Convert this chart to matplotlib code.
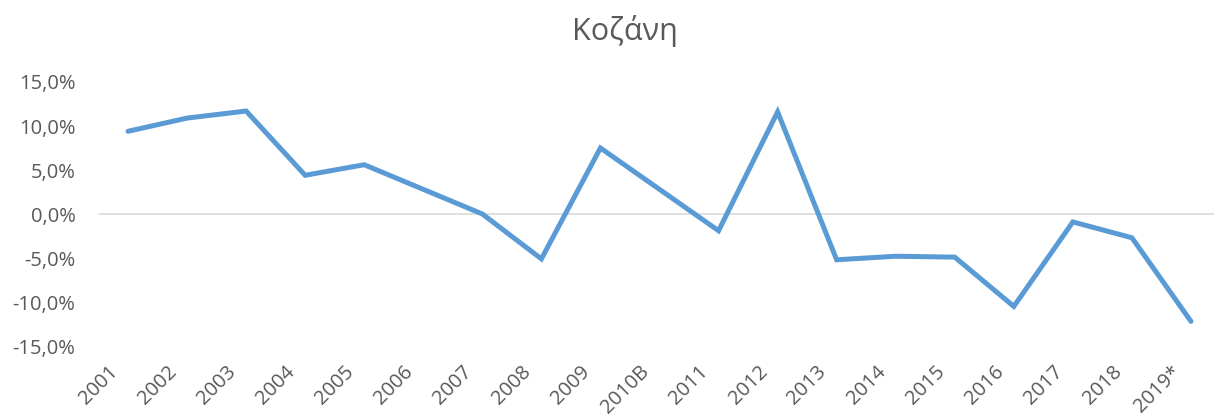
import matplotlib
matplotlib.use("Agg")
import matplotlib.pyplot as plt
import matplotlib.transforms as mtransforms
from matplotlib.ticker import FuncFormatter

years = ["2001", "2002", "2003", "2004", "2005", "2006", "2007", "2008", "2009", "2010B",
         "2011", "2012", "2013", "2014", "2015", "2016", "2017", "2018", "2019*"]
change_pct = [9.4, 10.9, 11.7, 4.4, 5.6, 2.8, 0.0, -5.1, 7.5, 2.8,
              -1.9, 11.6, -5.2, -4.8, -4.9, -10.5, -0.9, -2.7, -12.2]

plt.rcParams["font.family"] = ["Open Sans", "DejaVu Sans"]
text_color = "#595959"

fig = plt.figure(figsize=(12.14, 4.19), dpi=100)
ax = fig.add_axes([98.5 / 1214, 0.1742, 1 - 98.5 / 1214, 0.6301])

x = list(range(len(years)))
ax.plot(x, change_pct, color="#5B9BD5", lw=3.6, solid_joinstyle="miter", solid_capstyle="round")
ax.axhline(0, color="#D9D9D9", lw=1.2, zorder=0)

ax.set_xlim(-0.5, 18.39)
ax.set_ylim(-15, 15)
ax.set_yticks([-15, -10, -5, 0, 5, 10, 15])
ax.yaxis.set_major_formatter(FuncFormatter(lambda v, p: f"{v:.1f}%".replace(".", ",")))
ax.set_xticks(x)
ax.set_xticklabels(years, rotation=45, ha="right", va="center", rotation_mode="anchor")

for s in ax.spines.values():
    s.set_visible(False)
ax.tick_params(axis="both", length=0, colors=text_color, labelsize=14.5)
ax.tick_params(axis="y", pad=16.5)
ax.tick_params(axis="x", pad=12)

# nudge the rotated year labels left/down like the original
shift = mtransforms.ScaledTranslation(-13 / 100, -6 / 100, fig.dpi_scale_trans)
for lbl in ax.get_xticklabels():
    lbl.set_transform(lbl.get_transform() + shift)

fig.text(625 / 1214, 0.925, "Κοζάνη", ha="center", va="center", fontsize=22, color=text_color)

fig.savefig("out.png", dpi=100, facecolor="white")
